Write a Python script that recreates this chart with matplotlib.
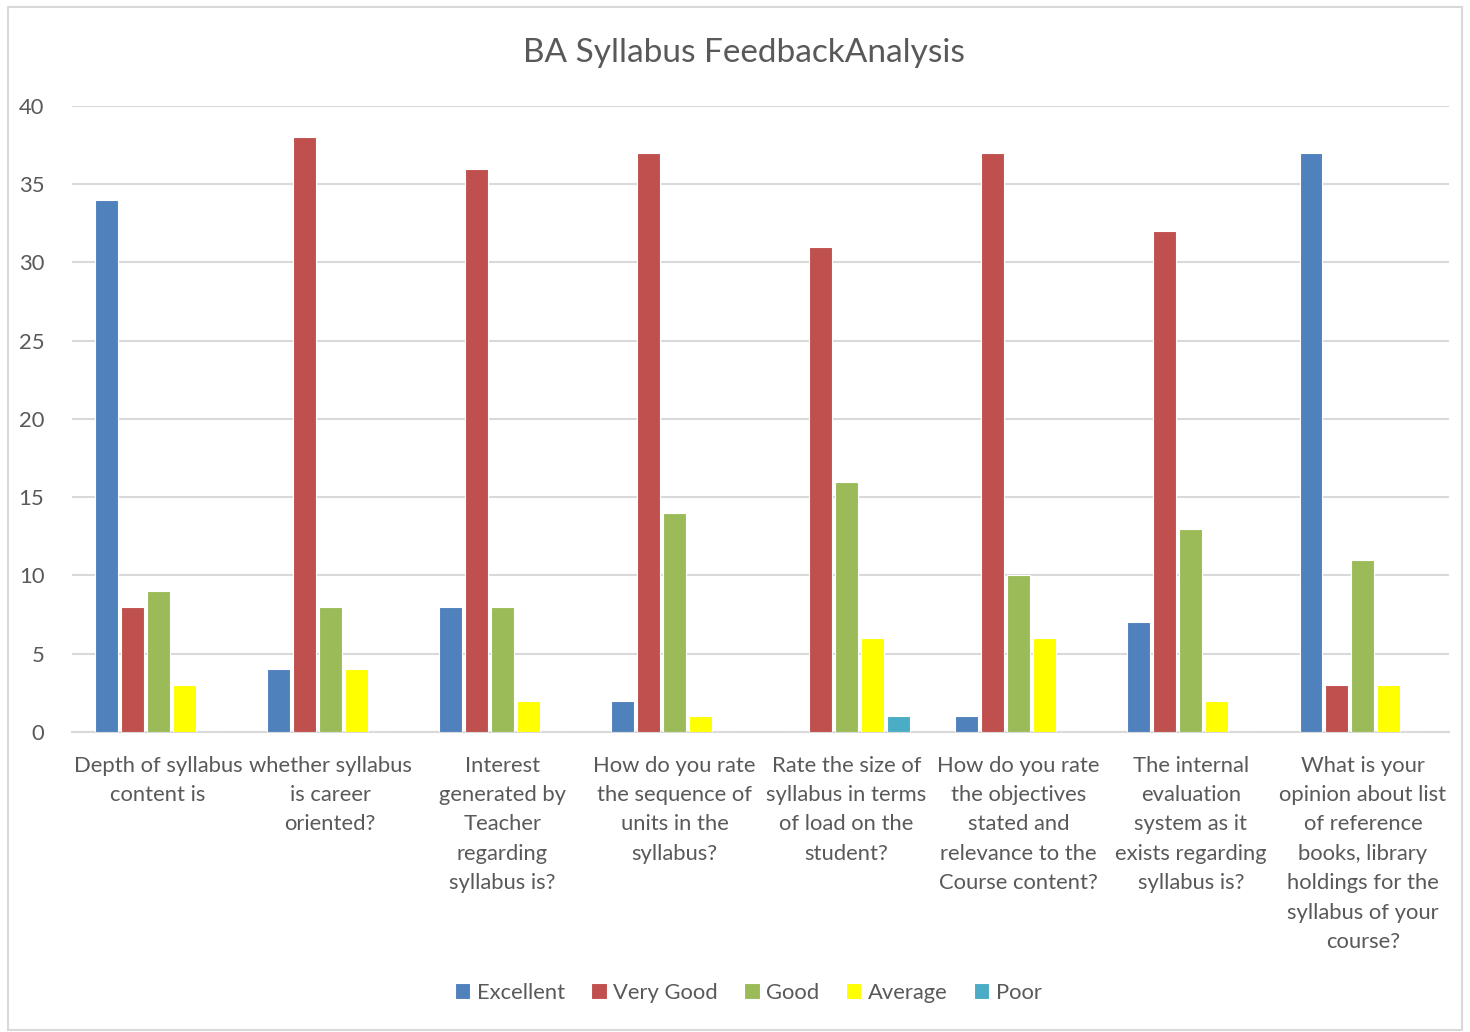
import matplotlib.pyplot as plt
import numpy as np
from matplotlib.patches import Rectangle

plt.rcParams['font.family'] = ['Lato', 'DejaVu Sans']

categories = [
    "Depth of syllabus\ncontent is",
    "whether syllabus\nis career\noriented?",
    "Interest\ngenerated by\nTeacher\nregarding\nsyllabus is?",
    "How do you rate\nthe sequence of\nunits in the\nsyllabus?",
    "Rate the size of\nsyllabus in terms\nof load on the\nstudent?",
    "How do you rate\nthe objectives\nstated and\nrelevance to the\nCourse content?",
    "The internal\nevaluation\nsystem as it\nexists regarding\nsyllabus is?",
    "What is your\nopinion about list\nof reference\nbooks, library\nholdings for the\nsyllabus of your\ncourse?",
]
excellent = [34, 4, 8, 2, 0, 1, 7, 37]
very_good = [8, 38, 36, 37, 31, 37, 32, 3]
good = [9, 8, 8, 14, 16, 10, 13, 11]
average = [3, 4, 2, 1, 6, 6, 2, 3]
poor = [0, 0, 0, 0, 1, 0, 0, 0]

series = [
    ("Excellent", excellent, "#4F81BD"),
    ("Very Good", very_good, "#C0504D"),
    ("Good", good, "#9BBB59"),
    ("Average", average, "#FFFF00"),
    ("Poor", poor, "#4BACC6"),
]

text_col = "#595959"
grid_col = "#D9D9D9"

fig = plt.figure(figsize=(14.7, 10.32), dpi=100)
ax = fig.add_axes([0.049, 0.2907, 0.9367, 0.6066])

x = np.arange(len(categories))
step = 0.151
for i, (name, vals, col) in enumerate(series):
    ax.bar(x + (i - 2) * step, vals, width=step * 0.88, color=col,
           edgecolor="white", linewidth=0.8, label=name, zorder=3)

ax.set_xlim(-0.5, len(categories) - 0.5)
ax.set_ylim(0, 40)
ax.set_yticks(range(0, 41, 5))
ax.yaxis.grid(True, color=grid_col, linewidth=1.5, zorder=0)
ax.set_xticks(x)
ax.set_xticklabels(categories, fontsize=15.8, color=text_col, linespacing=1.59)
ax.tick_params(axis="x", length=0, pad=17)
ax.tick_params(axis="y", length=0, pad=20, labelsize=15.8, labelcolor=text_col)
for s in ["top", "right", "left"]:
    ax.spines[s].set_visible(False)
ax.spines["bottom"].set_color(grid_col)
ax.spines["bottom"].set_linewidth(1.5)

fig.text(0.506, 0.949, "BA Syllabus FeedbackAnalysis", ha="center", va="center",
         fontsize=24, color=text_col)

fig.legend(loc="center", bbox_to_anchor=(0.509, 0.038), ncol=5, frameon=False,
           fontsize=15.8, labelcolor=text_col, handlelength=0.7, handleheight=0.7,
           handletextpad=0.3, columnspacing=1.2)

fig.patches.append(Rectangle((0.0055, 0.002), 0.989, 0.991, transform=fig.transFigure,
                             fill=False, edgecolor=grid_col, linewidth=1.5))

fig.savefig("out.png", dpi=100)
